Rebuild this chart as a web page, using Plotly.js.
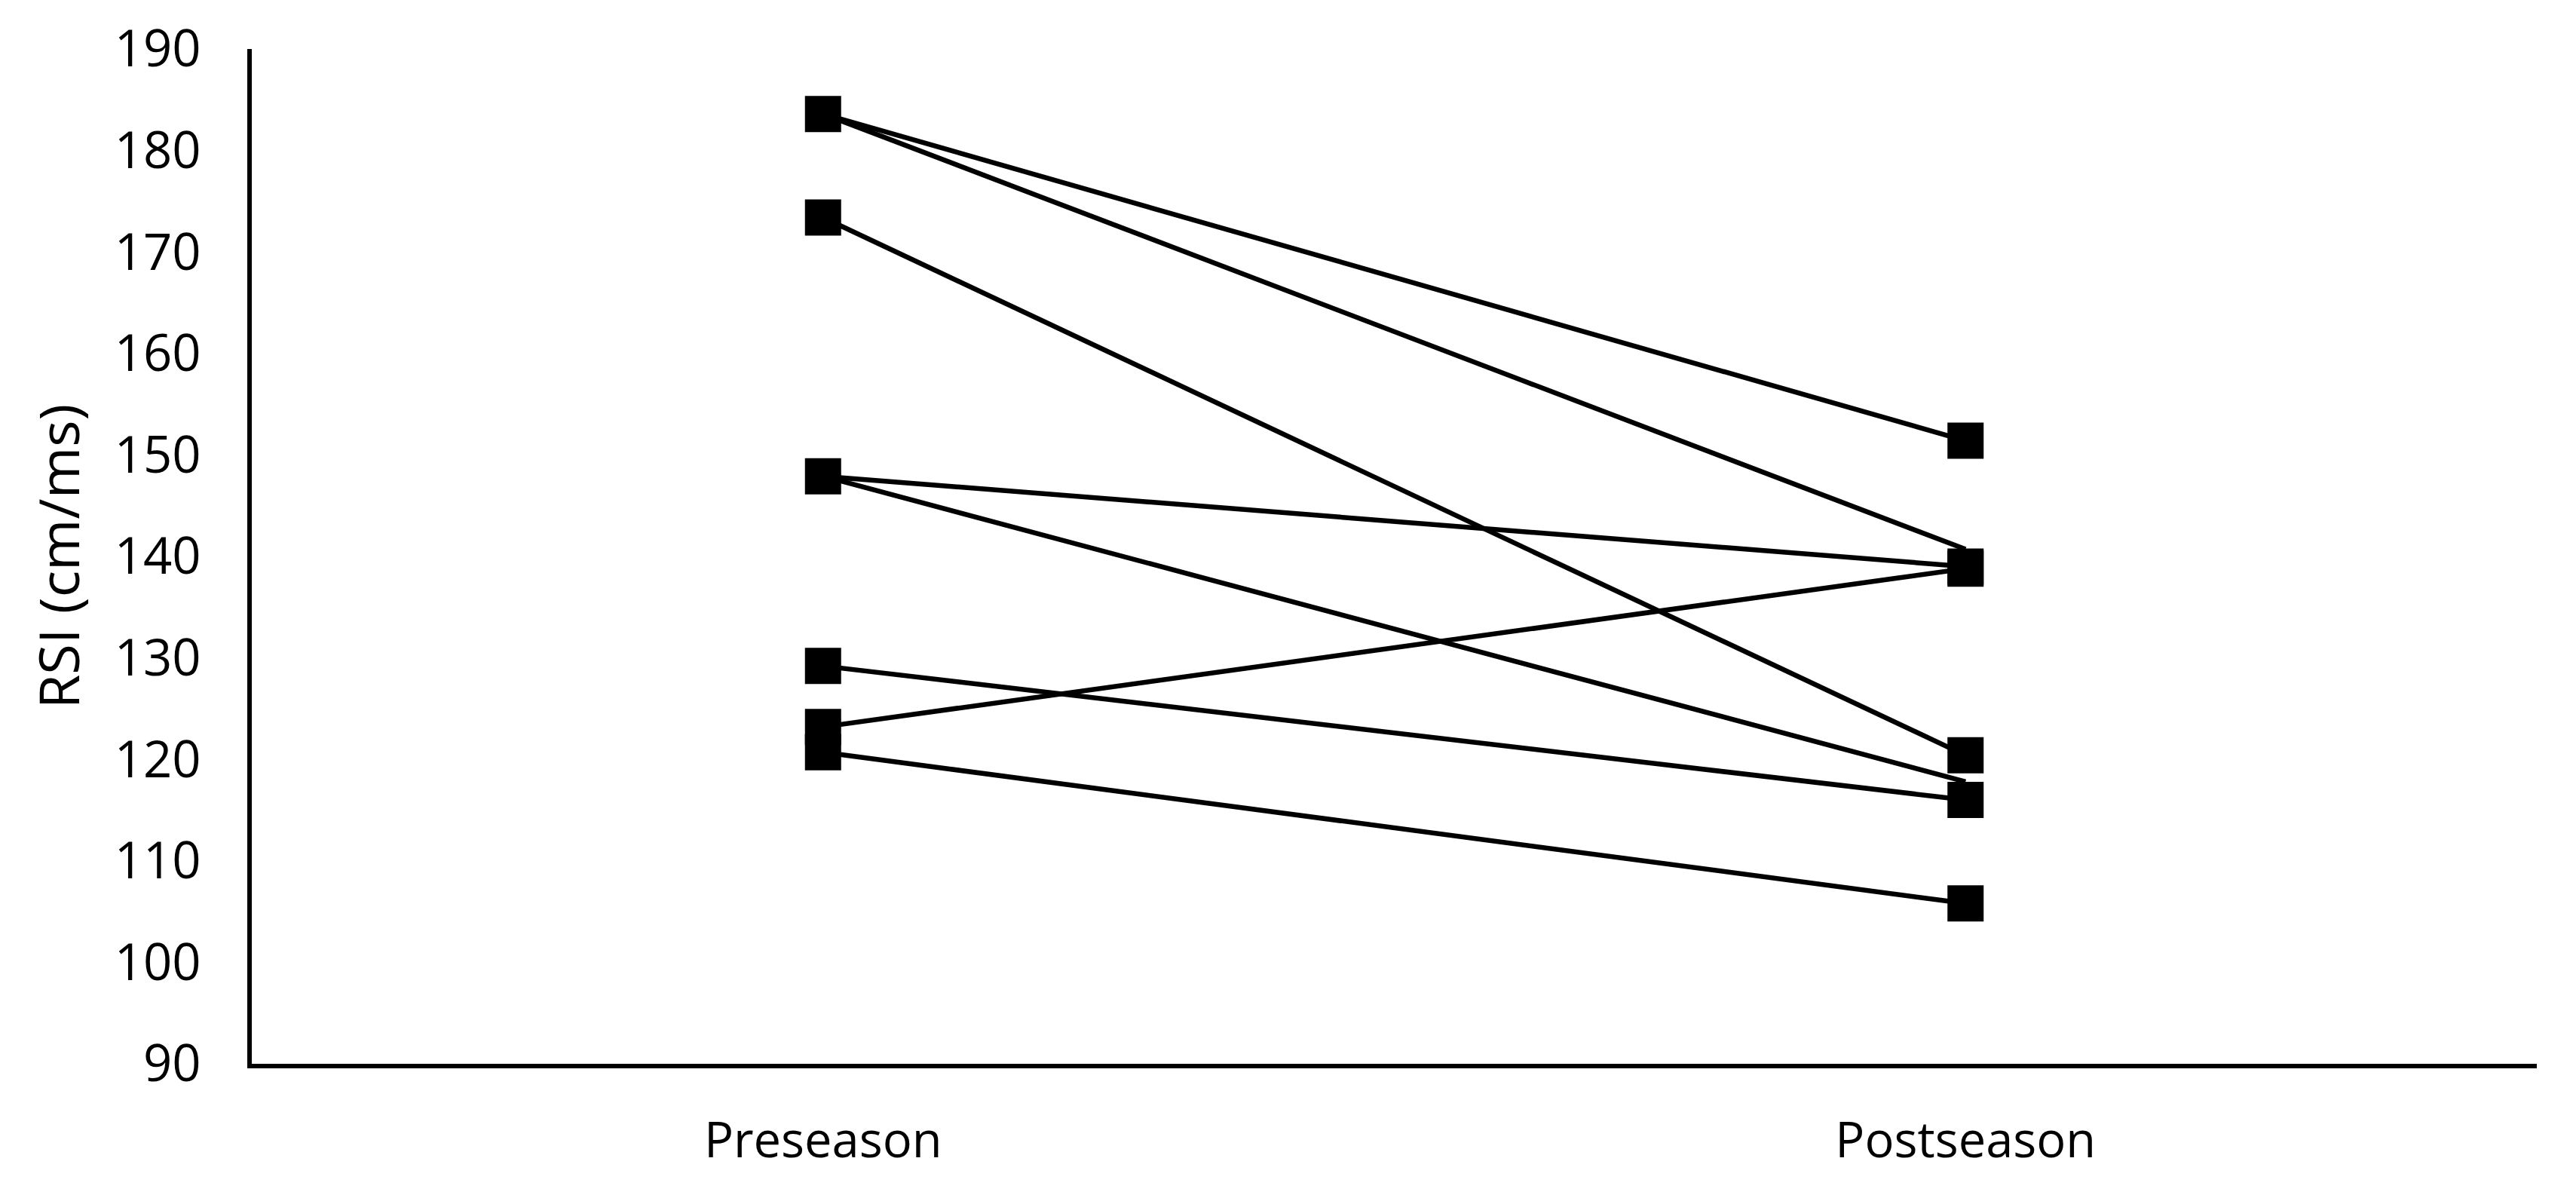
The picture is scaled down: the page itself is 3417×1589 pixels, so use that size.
<!DOCTYPE html>
<html>
<head>
<meta charset="utf-8">
<script src="https://cdn.plot.ly/plotly-3.0.1.min.js"></script>
<style>
  html, body { margin: 0; padding: 0; background: #ffffff; }
  #chart { width: 3417px; height: 1589px; }
</style>
</head>
<body>
<div id="chart"></div>
<script>
const categories = ["Preseason", "Postseason"];
const preseason  = [183.6, 183.6, 173.4, 147.9, 147.9, 129.2, 123.2, 120.7];
const postseason = [151.4, 140.7, 120.4, 139.0, 117.8, 116.0, 138.8, 105.8];
const yTickVals = [90, 100, 110, 120, 130, 140, 150, 160, 170, 180, 190];

// series drawn as plain lines (their end points show no marker in the reference)
const lineOnlySeries = [1, 4];

const traces = preseason.map((pre, i) => ({
  type: "scatter",
  mode: lineOnlySeries.includes(i) ? "lines" : "lines+markers",
  x: categories,
  y: [pre, postseason[i]],
  line: { color: "#000000", width: 6.5 },
  marker: { symbol: "square", size: 48, color: "#000000" },
  showlegend: false,
  hoverinfo: "skip"
}));

const layout = {
  width: 3417,
  height: 1589,
  paper_bgcolor: "#ffffff",
  plot_bgcolor: "#ffffff",
  margin: { l: 334, r: 52, t: 65, b: 178, pad: 0 },
  font: { family: "Open Sans, Liberation Sans, sans-serif", color: "#000000", size: 65 },
  showlegend: false,
  xaxis: {
    type: "category",
    range: [-0.5, 1.5],
    showline: true,
    linecolor: "#000000",
    linewidth: 6,
    showgrid: false,
    zeroline: false,
    ticks: "",
    ticklabelstandoff: 40,
    tickfont: { size: 65 }
  },
  yaxis: {
    range: [90, 190],
    tickvals: yTickVals,
    showline: true,
    linecolor: "#000000",
    linewidth: 6,
    showgrid: false,
    zeroline: false,
    ticks: "",
    ticklabelstandoff: 48,
    tickfont: { size: 67 },
    title: { text: "RSI (cm/ms)", font: { size: 74 }, standoff: 24 }
  }
};

Plotly.newPlot("chart", traces, layout, { staticPlot: true, displayModeBar: false });
</script>
</body>
</html>
